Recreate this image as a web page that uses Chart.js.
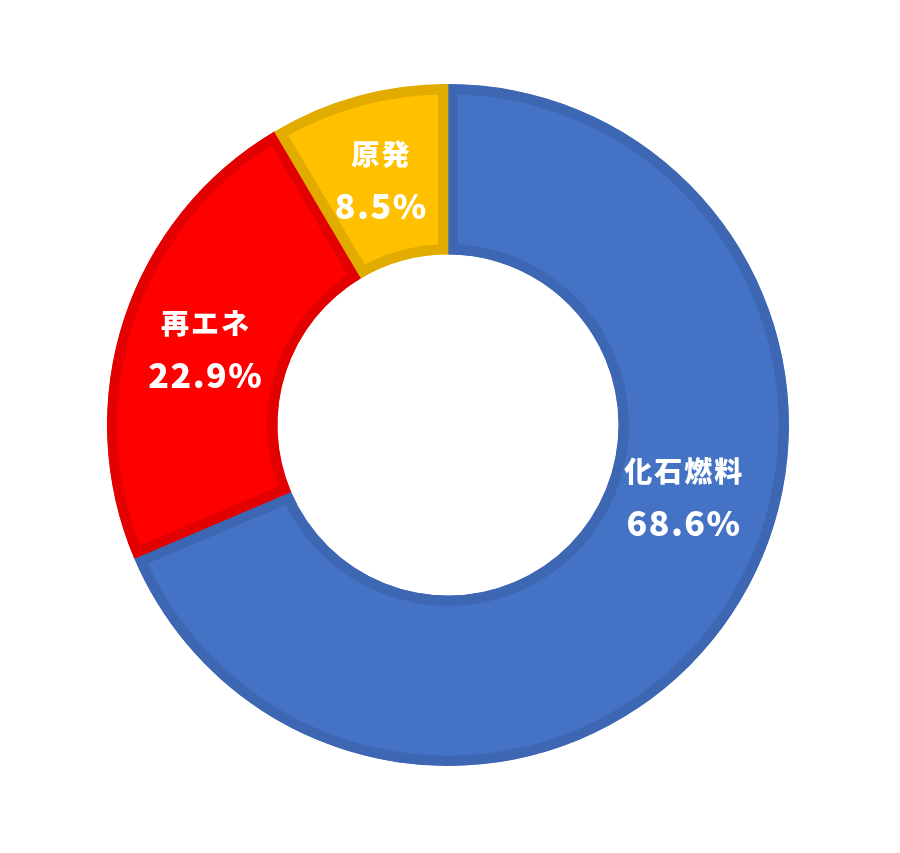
<!DOCTYPE html>
<html lang="ja">
<head>
<meta charset="utf-8">
<script src="https://cdn.jsdelivr.net/npm/chart.js@4/dist/chart.umd.min.js"></script>
<style>
  html, body { margin: 0; padding: 0; background: #fff; }
  #wrap { position: relative; width: 900px; height: 853px; }
</style>
</head>
<body>
<div id="wrap"><canvas id="chart"></canvas></div>
<script>
// ---- データ ------------------------------------------------------------
const labels  = ['化石燃料', '再エネ', '原発'];
const shares  = [68.6, 22.9, 8.5];
const fills   = ['#4472C4', '#FF0000', '#FFC000'];
const borders = ['#3D66B3', '#E30000', '#E2AB00'];

// ラベル位置の微調整 (中心からのずれ, px)
const labelShift = [[22, -69], [0, 4], [0, 2]];

// ---- ラベル描画プラグイン ----------------------------------------------
const sliceLabels = {
    id: 'sliceLabels',
    afterDatasetsDraw(chart) {
        const ctx  = chart.ctx;
        const arcs = chart.getDatasetMeta(0).data;
        ctx.save();
        ctx.fillStyle    = '#FFFFFF';
        ctx.textAlign    = 'center';
        ctx.textBaseline = 'middle';
        arcs.forEach((arc, i) => {
            const p = arc.tooltipPosition(true);
            const x = p.x + labelShift[i][0];
            const y = p.y + labelShift[i][1];
            ctx.font = '900 28px "Noto Sans CJK JP", sans-serif';
            ctx.letterSpacing = '2px';
            ctx.fillText(labels[i], x + 1, y - 26);
            ctx.font = '900 34px "Noto Sans CJK JP", sans-serif';
            ctx.letterSpacing = '1.5px';
            ctx.fillText(shares[i].toFixed(1) + '%', x + 0.75, y + 26);
        });
        ctx.restore();
    }
};

new Chart(document.getElementById('chart'), {
    type: 'doughnut',
    data: {
        labels: labels,
        datasets: [{
            data: shares,
            backgroundColor: fills,
            borderColor: borders,
            hoverBackgroundColor: fills,
            hoverBorderColor: borders,
            borderWidth: 10,
            hoverBorderWidth: 10,
            borderAlign: 'inner'
        }]
    },
    options: {
        responsive: true,
        maintainAspectRatio: false,
        animation: false,
        cutout: '50%',
        layout: { padding: { left: 107, right: 111, top: 84, bottom: 87 } },
        plugins: {
            legend: { display: false },
            tooltip: { enabled: false }
        }
    },
    plugins: [sliceLabels]
});
</script>
</body>
</html>
